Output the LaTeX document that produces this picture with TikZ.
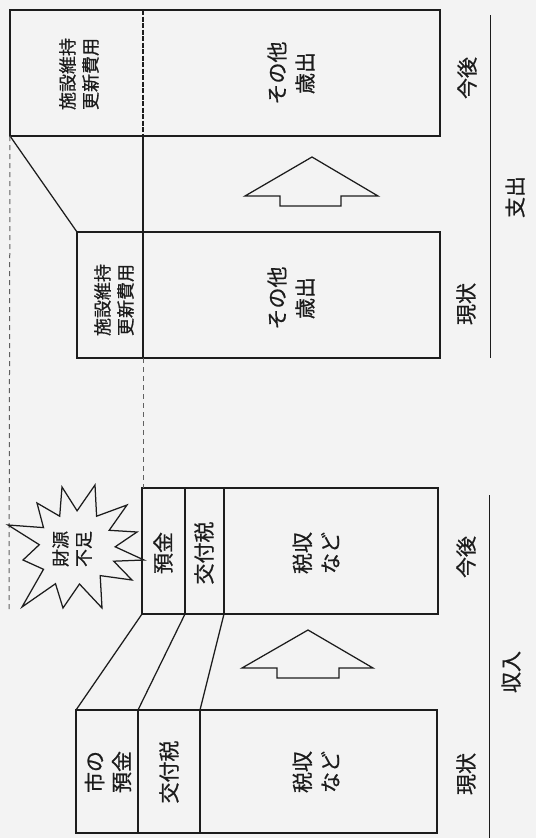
\documentclass[tikz,border=0pt]{standalone}
\usepackage{fontspec}
\newfontfamily\jp[FakeBold=0.6]{Noto Sans CJK JP}
\definecolor{bg}{RGB}{243,243,243}
\definecolor{ink}{RGB}{28,28,28}
\begin{document}
\begin{tikzpicture}[x=1pt,y=-1pt,
  ln/.style={draw=ink,line width=1.25pt},
  dsh/.style={draw=ink!70,line width=1pt,dash pattern=on 5pt off 4pt},
  dense/.style={draw=ink,line width=1.25pt,dash pattern=on 5pt off 1.5pt},
  big/.style={rotate=90,text=ink,font=\jp\fontsize{21}{28}\selectfont,align=center,inner sep=0pt},
  mid/.style={rotate=90,text=ink,font=\jp\fontsize{21}{27}\selectfont,align=center,inner sep=0pt},
  sm/.style={rotate=90,text=ink,font=\jp\fontsize{18}{23}\selectfont,align=center,inner sep=0pt}
]
\fill[bg] (0,0) rectangle (536,838);
\useasboundingbox (0,0) rectangle (536,838);

% ---------- expenditure (支出) ----------
% future box
\coordinate (ft-tl) at (10,10);
\coordinate (ft-br) at (440,136);
\coordinate (ft-bl) at (10,136);
\coordinate (ft-dt) at (143,10);
\coordinate (ft-db) at (143,136);
\draw[ln] (ft-tl) rectangle (ft-br);
\draw[dense] (ft-dt) -- (ft-db);
% current box
\coordinate (cu-tl) at (77,232);
\coordinate (cu-br) at (440,358);
\coordinate (cu-dt) at (143,232);
\coordinate (cu-db) at (143,358);
\draw[ln] (cu-tl) rectangle (cu-br);
\draw[ln] (cu-dt) -- (cu-db);
% connectors
\draw[ln] (ft-bl) -- (cu-tl);
\draw[ln] (ft-db) -- (cu-dt);
% texts
\node[sm]  (ft-a) at (79,74)  {施設維持\\更新費用};
\node[big] (ft-b) at (291,73) {その他\\歳出};
\node[sm]  (cu-a) at (114,300) {施設維持\\更新費用};
\node[big] (cu-b) at (291,298) {その他\\歳出};
% arrow
\draw[ln] (312,157) -- (378,196) -- (341,196) -- (341,206) -- (280,206) -- (280,196) -- (245,196) -- cycle;
% labels
\node[big] (ex-f) at (467,78) {今後};
\node[big] (ex-c) at (466,304) {現状};
\coordinate (ex-lt) at (490,15);
\coordinate (ex-lb) at (490,358);
\draw[ln,line width=0.9pt] (ex-lt) -- (ex-lb);
\node[big] (ex) at (515,197) {支出};

% ---------- revenue (収入) ----------
% future box
\coordinate (rf-tl) at (142,488);
\coordinate (rf-br) at (438,614);
\coordinate (rf-bl) at (142,614);
\coordinate (rf-d1t) at (185,488);
\coordinate (rf-d1b) at (185,614);
\coordinate (rf-d2t) at (224,488);
\coordinate (rf-d2b) at (224,614);
\draw[ln] (rf-tl) rectangle (rf-br);
\draw[ln] (rf-d1t) -- (rf-d1b);
\draw[ln] (rf-d2t) -- (rf-d2b);
% current box
\coordinate (rc-tl) at (76,710);
\coordinate (rc-br) at (437,833);
\coordinate (rc-d1t) at (138,710);
\coordinate (rc-d1b) at (138,833);
\coordinate (rc-d2t) at (200,710);
\coordinate (rc-d2b) at (200,833);
\draw[ln] (rc-tl) rectangle (rc-br);
\draw[ln] (rc-d1t) -- (rc-d1b);
\draw[ln] (rc-d2t) -- (rc-d2b);
% connectors
\draw[ln] (rf-bl) -- (rc-tl);
\draw[ln] (rf-d1b) -- (rc-d1t);
\draw[ln] (rf-d2b) -- (rc-d2t);
% texts
\node[mid] (rf-a) at (163,553) {預金};
\node[mid] (rf-b) at (204,553) {交付税};
\node[big] (rf-c) at (316,553) {税収\\など};
\node[mid] (rc-a) at (108,772) {市の\\預金};
\node[mid] (rc-b) at (169,772) {交付税};
\node[big] (rc-c) at (316,772) {税収\\など};
% arrow
\draw[ln] (308,630) -- (373,668) -- (339,668) -- (339,678) -- (277,678) -- (277,668) -- (242,668) -- cycle;
% labels
\node[big] (re-f) at (466,557) {今後};
\node[big] (re-c) at (466,774) {現状};
\coordinate (re-lt) at (489,495);
\coordinate (re-lb) at (489,838);
\draw[ln,line width=0.9pt] (re-lt) -- (re-lb);
\node[big] (re) at (511,672) {収入};

% ---------- dashed guides ----------
\draw[dsh] (ft-bl) -- (9,612);
\draw[dsh] (cu-db) -- (rf-d1t -| cu-db);

% ---------- starburst ----------
\draw[ln,fill=bg] (8,525) -- (43.5,527.6) -- (37,503) -- (59.7,516.2) -- (62,487) -- (77.1,510.8) -- (95,485) -- (96.6,516.2) -- (127,505) -- (109.2,530.3) -- (137,532) -- (115.2,546.8) -- (144,560) -- (113.7,561.2) -- (132,580) -- (100.2,575.6) -- (102,608) -- (79.5,584) -- (63,608) -- (55.5,583.7) -- (22,607) -- (43.5,569.3) -- (23,560) -- (39.3,544.7) -- cycle;
\node[sm] (burst) at (72,549) {財源\\不足};
\end{tikzpicture}
\end{document}
